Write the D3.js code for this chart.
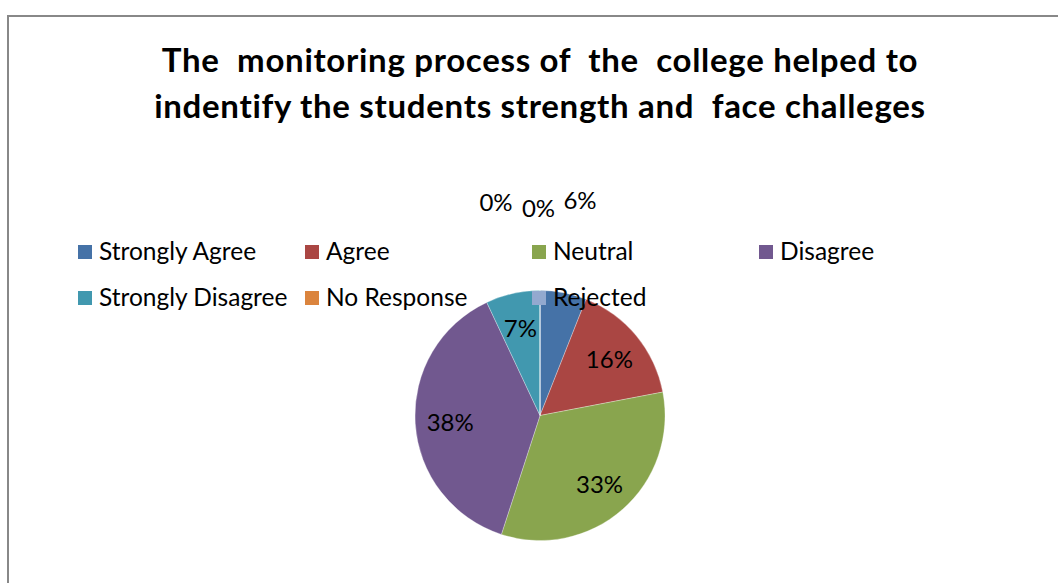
<!DOCTYPE html>
<html><head><meta charset="utf-8">
<script src="https://cdn.jsdelivr.net/npm/d3@7/dist/d3.min.js"></script>
<style>html,body{margin:0;padding:0;background:#fff;}svg{display:block;}</style>
</head><body>
<svg id="c" width="1058" height="583"></svg>
<script>
const categories = ["Strongly Agree","Agree","Neutral","Disagree","Strongly Disagree","No Response","Rejected"];
const values = [6,16,33,38,7,0,0];
const colors = ["#4572A7","#AA4643","#89A54E","#71588F","#4198AF","#DB843D","#93A9CF"];
const titleLines = ["The  monitoring process of  the  college helped to","indentify the students strength and  face challeges"];

const svg = d3.select("#c");
const FONT = "Lato, 'Open Sans', sans-serif";

// frame
svg.append("rect").attr("x",8).attr("y",16).attr("width",1100).attr("height",600)
  .attr("fill","none").attr("stroke","#888").attr("stroke-width",2);

// title
svg.append("text").attr("text-anchor","middle").attr("font-family",FONT)
  .attr("font-weight","bold").attr("font-size",33).attr("fill","#000")
  .attr("letter-spacing",0.7).style("white-space","pre")
  .selectAll("tspan").data(titleLines).join("tspan")
  .attr("x",540).attr("y",(d,i)=>72+i*46).text(d=>d);

// pie
const cx=540, cy=415.5, R=125;
const pie = d3.pie().sort(null).value(d=>d.v);
const arcs = pie(categories.map((c,i)=>({c,v:values[i],col:colors[i]})));
const arc = d3.arc().innerRadius(0).outerRadius(R);
const g = svg.append("g").attr("transform",`translate(${cx},${cy})`);
g.selectAll("path").data(arcs).join("path").attr("d",arc)
  .attr("fill",d=>d.data.col).attr("stroke","#ffffff").attr("stroke-opacity",0.5).attr("stroke-width",0.6);

// labels
const inArc = d3.arc().innerRadius(R*0.72).outerRadius(R*0.72);
// outside labels for small slices (Excel best-fit placement)
const outsideOffsets = {0:[40,-216.5], 5:[-44,-214.5], 6:[-1.5,-208.5]};
g.selectAll("text.lab").data(arcs).join("text").attr("class","lab")
  .attr("font-family",FONT).attr("font-size",24).attr("fill","#000")
  .attr("text-anchor","middle").attr("dominant-baseline","central")
  .attr("transform",(d,i)=>{
    if (outsideOffsets[i]) return `translate(${outsideOffsets[i][0]},${outsideOffsets[i][1]})`;
    const [x,y]=inArc.centroid(d); return `translate(${x},${y})`;
  })
  .text(d=>Math.round(d.data.v)+"%");

// legend
const leg = svg.append("g");
const items = leg.selectAll("g").data(categories).join("g")
  .attr("transform",(d,i)=>`translate(${78+(i%4)*227},${(i<4?252:298)})`);
items.append("rect").attr("x",0).attr("y",-7).attr("width",14).attr("height",14)
  .attr("fill",(d,i)=>colors[i]);
items.append("text").attr("x",21).attr("y",8).attr("font-family",FONT).attr("font-size",24.5)
  .attr("fill","#000").text(d=>d);
</script>
</body></html>
